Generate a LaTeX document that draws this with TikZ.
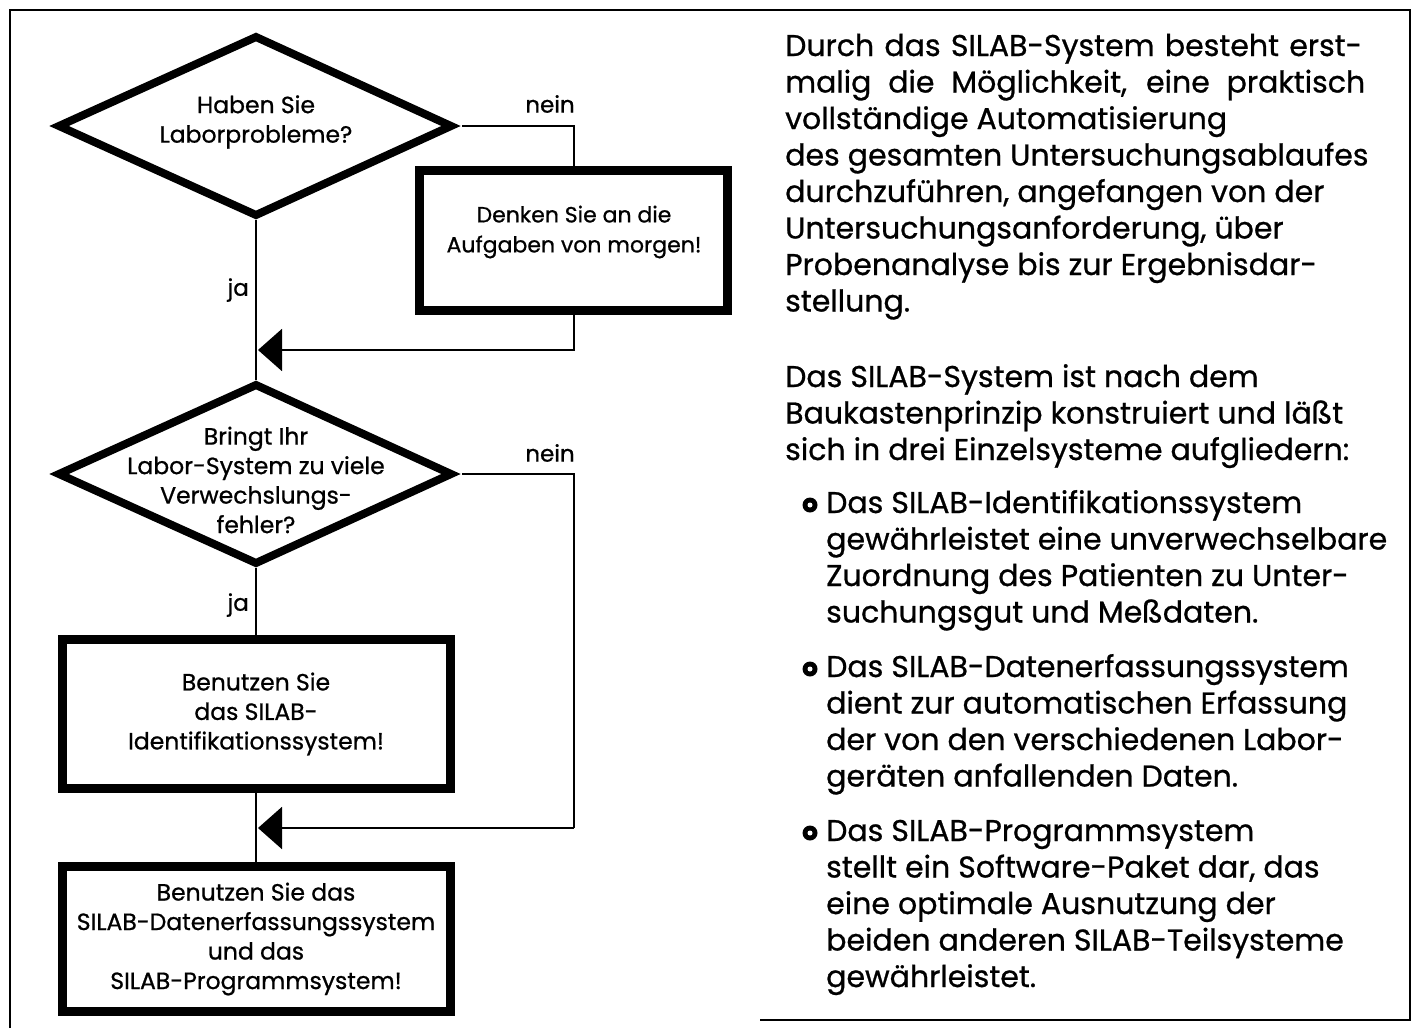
\documentclass[tikz,border=0pt]{standalone}
\usepackage{fontspec}
\setmainfont{Poppins}[FakeBold=0.8]
\usetikzlibrary{arrows.meta}
\begin{document}
\begin{tikzpicture}[x=1pt,y=-1pt,
  frame/.style={line width=2.5pt},
  diashape/.style={line width=8pt, line join=miter},
  boxshape/.style={draw, line width=9pt, inner sep=0pt, align=center,
                   font=\fontsize{23.5}{29.5}\selectfont},
  conn/.style={line width=2pt},
  arr/.style={conn, -{Triangle[length=24pt,width=42pt]}},
  ftext/.style={font=\fontsize{23.5}{29.5}\selectfont, align=center, inner sep=0pt},
  lbl/.style={font=\fontsize{23}{26}\selectfont, inner sep=0pt},
  rtext/.style={font=\fontsize{30}{36.5}\selectfont, anchor=base west, inner sep=0pt},
  bullet/.style={fill=black}]
\useasboundingbox (0,0) rectangle (1415,1028);
\fill[white] (0,0) rectangle (1415,1028);
% outer frame
\draw[frame] (10,1028) -- (10,10) -- (1410,10) -- (1410,1020) -- (760,1020);

% diamond 1
\coordinate (d1t) at (256,32);
\coordinate (d1r) at (462,126);
\coordinate (d1b) at (256,220);
\coordinate (d1l) at (48,126);
\draw[diashape] (256,37) -- (451,126) -- (256,215) -- (59,126) -- cycle;
\node[ftext] (q1) at (256,122) {Haben Sie\\Laborprobleme?};

% diamond 2
\coordinate (d2t) at (256,380);
\coordinate (d2r) at (462,474);
\coordinate (d2b) at (256,568);
\coordinate (d2l) at (48,474);
\draw[diashape] (256,385) -- (451,474) -- (256,563) -- (59,474) -- cycle;
\node[ftext] (q2) at (256,480) {Bringt Ihr\\Labor-System zu viele\\Verwechslungs-\\fehler?};

% boxes
\node[boxshape, minimum width=308pt, minimum height=140pt] (b1) at (573.5,240.5) {};
\node[ftext, font=\fontsize{22}{30}\selectfont] (t1) at (574,232)
  {Denken Sie an die\\Aufgaben von morgen!};
\node[boxshape, minimum width=388pt, minimum height=149pt] (b2) at (256,714)
  {Benutzen Sie\\das SILAB-\\Identifikationssystem!};
\node[boxshape, minimum width=388pt, minimum height=145pt] (b3) at (256,939)
  {Benutzen Sie das\\SILAB-Datenerfassungssystem\\und das\\SILAB-Programmsystem!};

% junctions
\coordinate (j1) at (258,350);
\coordinate (j2) at (258,828);
\coordinate (k2) at (574,828);

% connectors
\draw[conn] (d1r) -| (b1.north);
\draw[arr] (b1.south) |- (j1);
\draw[conn] (d1b) -- (d2t);
\draw[conn] (d2r) -| (k2);
\draw[arr] (k2) -- (j2);
\draw[conn] (d2b) -- (b2.north);
\draw[conn] (b2.south) -- (b3.north);

% labels
\node[lbl] (n1) at (550,104) {nein};
\node[lbl] (n2) at (550,453) {nein};
\node[lbl, anchor=east] (y1) at (249,290) {ja};
\node[lbl, anchor=east] (y2) at (249,605) {ja};

% right text
\foreach \t [count=\i from 0] in {
  {\makebox[577pt][s]{Durch das SILAB-System besteht erst-}},
  {\makebox[580pt][s]{malig die Möglichkeit, eine praktisch}},
  vollständige Automatisierung,
  des gesamten Untersuchungsablaufes,
  durchzuführen{,} angefangen von der,
  Untersuchungsanforderung{,} über,
  Probenanalyse bis zur Ergebnisdar-,
  stellung.}
  \node[rtext] (pa\i) at (785,56+36.5*\i) {\t};
\foreach \t [count=\i from 0] in {
  Das SILAB-System ist nach dem,
  Baukastenprinzip konstruiert und läßt,
  sich in drei Einzelsysteme aufgliedern:}
  \node[rtext] (pb\i) at (785,387+36.5*\i) {\t};
\foreach \t [count=\i from 0] in {
  Das SILAB-Identifikationssystem,
  gewährleistet eine unverwechselbare,
  Zuordnung des Patienten zu Unter-,
  suchungsgut und Meßdaten.}
  \node[rtext] (pc\i) at (826,513+36.5*\i) {\t};
\foreach \t [count=\i from 0] in {
  Das SILAB-Datenerfassungssystem,
  dient zur automatischen Erfassung,
  der von den verschiedenen Labor-,
  geräten anfallenden Daten.}
  \node[rtext] (pd\i) at (826,677+36.5*\i) {\t};
\foreach \t [count=\i from 0] in {
  Das SILAB-Programmsystem,
  stellt ein Software-Paket dar{,} das,
  eine optimale Ausnutzung der,
  beiden anderen SILAB-Teilsysteme,
  gewährleistet.}
  \node[rtext] (pe\i) at (826,841+36.5*\i) {\t};

% bullets
\foreach \y in {505,669,833} {
  \fill[bullet] (810,\y) circle (7.5);
  \fill[white] (810,\y) circle (2.5);
}
\end{tikzpicture}
\end{document}
